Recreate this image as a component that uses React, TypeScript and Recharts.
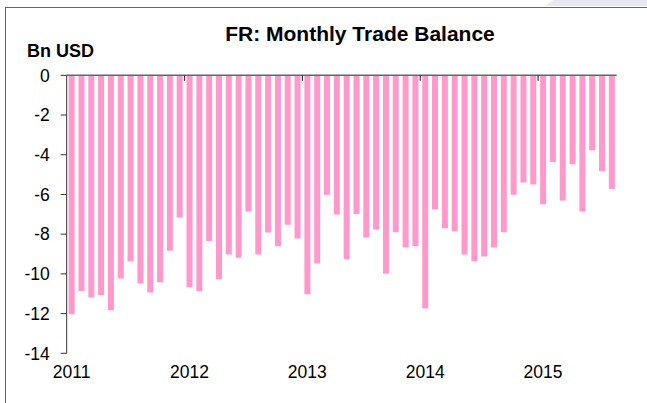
import React from 'react';
import { BarChart, Bar, XAxis, YAxis, ReferenceLine } from 'recharts';

const years = ['2011', '2012', '2013', '2014', '2015'];
const balance2011 = [-12.03, -10.86, -11.19, -11.07, -11.83, -10.23, -9.36, -10.49, -10.94, -10.42, -8.83, -7.16];
const balance2012 = [-10.67, -10.87, -8.34, -10.27, -9.03, -9.19, -6.86, -9.03, -7.92, -8.61, -7.52, -8.22];
const balance2013 = [-11.02, -9.48, -6.02, -7.01, -9.26, -6.98, -8.17, -7.77, -10.0, -7.9, -8.67, -8.61];
const balance2014 = [-11.74, -6.74, -7.7, -7.85, -9.03, -9.36, -9.13, -8.67, -7.9, -6.02, -5.4, -5.5];
const balance2015 = [-6.49, -4.36, -6.31, -4.48, -6.86, -3.78, -4.83, -5.72];
const yTicks = [0, -2, -4, -6, -8, -10, -12, -14];

const series = [balance2011, balance2012, balance2013, balance2014, balance2015];

const data = series.flatMap((vals, yi) =>
  vals.map((v, mi) => ({
    key: `${years[yi]}-${mi + 1}`,
    value: v,
  }))
);

// January of every year after the first gets a small tick on the zero line
const yearStarts = years.slice(1).map((y) => `${y}-1`);

const font = '"Liberation Sans", Arial, sans-serif';

const App: React.FC = () => {
  return (
    <div style={{ position: 'absolute', left: 0, top: 0, width: 647, height: 403, overflow: 'hidden', background: '#fff', fontFamily: font }}>
      <div style={{ position: 'absolute', right: 0, top: 0, width: 102, height: 6, background: '#e8e8f1', clipPath: 'polygon(8% 0, 100% 0, 100% 100%, 0 100%)' }} />
      <div style={{ position: 'absolute', left: 5, top: 7, width: 700, height: 500, borderLeft: '1px solid #666', borderTop: '1px solid #666' }} />
      <div style={{ position: 'absolute', left: 160, top: 22.5, width: 400, textAlign: 'center', fontSize: 21, lineHeight: 1, fontWeight: 'bold', color: '#000' }}>
        FR: Monthly Trade Balance
      </div>
      <div style={{ position: 'absolute', left: 27, top: 41.5, fontSize: 18, lineHeight: 1, fontWeight: 'bold', color: '#000' }}>
        Bn USD
      </div>
      <div style={{ position: 'absolute', left: 0, top: 0 }}>
        <BarChart
          width={647}
          height={403}
          data={data}
          margin={{ top: 75.3, right: 30.3, bottom: 19.7, left: 0 }}
          barCategoryGap="20%"
        >
          <XAxis
            dataKey="key"
            interval={11}
            tickFormatter={(k: string) => k.slice(0, 4)}
            axisLine={false}
            tickLine={false}
            tickMargin={6}
            height={30}
            tick={{ fontSize: 17.5, fill: '#000', fontFamily: font }}
          />
          <YAxis
            domain={[-14, 0]}
            ticks={yTicks}
            width={66.7}
            tickSize={6}
            tickMargin={11}
            axisLine={{ stroke: '#333' }}
            tickLine={{ stroke: '#333' }}
            tick={{ fontSize: 17.5, fill: '#000', fontFamily: font }}
          />
          <Bar dataKey="value" fill="#ff99cc" isAnimationActive={false} />
          <ReferenceLine y={0} stroke="#666" strokeWidth={1.5} />
          {yearStarts.map((k) => (
            <ReferenceLine
              key={k}
              position="start"
              segment={[{ x: k, y: 0 }, { x: k, y: -0.28 }]}
              stroke="#333"
              strokeWidth={1.2}
            />
          ))}
        </BarChart>
      </div>
    </div>
  );
};

export default App;
